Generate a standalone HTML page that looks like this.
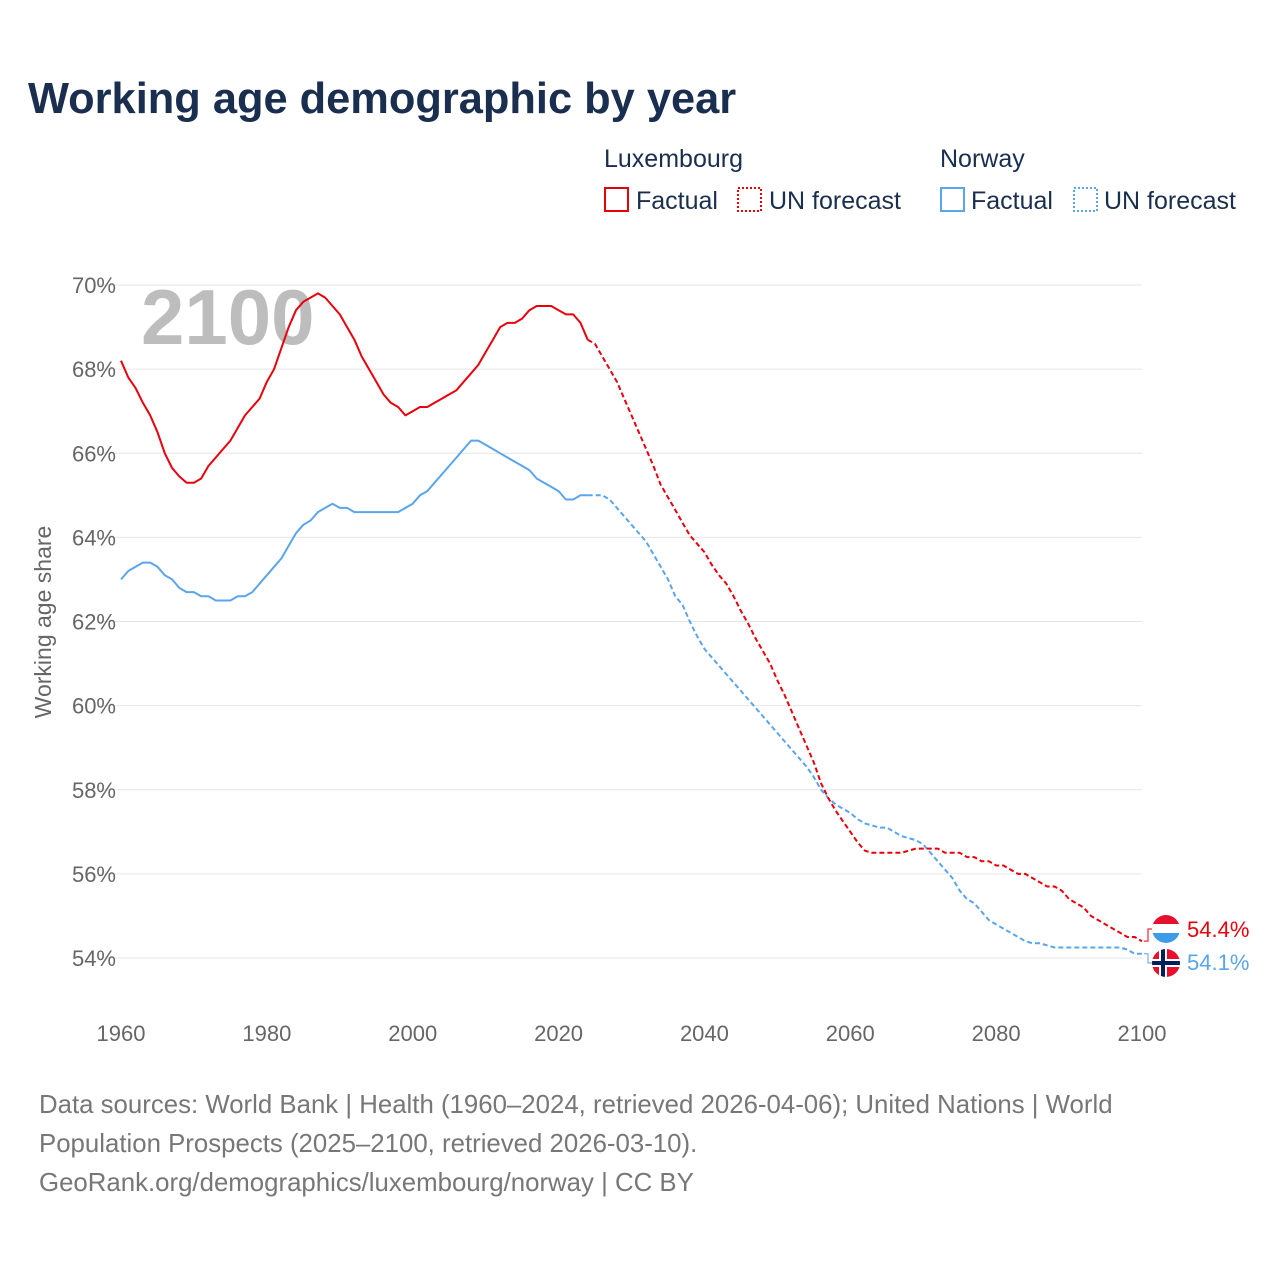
<!DOCTYPE html>
<html><head><meta charset="utf-8">
<style>
body{margin:0;background:#fff;font-family:"Liberation Sans",sans-serif;}
svg text{font-family:"Liberation Sans",sans-serif;}
</style></head>
<body>
<svg id="chart" width="1280" height="1280" xmlns="http://www.w3.org/2000/svg">
<text x="28" y="113" font-size="43.4" font-weight="bold" fill="#1a2e4f">Working age demographic by year</text>
<g font-size="25" fill="#1a2e4f">
<text x="604" y="167" fill="#1a2e4f">Luxembourg</text>
<rect x="605" y="188" width="23" height="23" fill="none" stroke="#e8000b" stroke-width="2"/>
<text x="636" y="209" fill="#1a2e4f">Factual</text>
<rect x="738" y="188" width="23" height="23" fill="none" stroke="#e8000b" stroke-width="2" stroke-dasharray="2,2"/>
<text x="769" y="209" fill="#1a2e4f">UN forecast</text>
<text x="940" y="167" fill="#1a2e4f">Norway</text>
<rect x="941" y="188" width="23" height="23" fill="none" stroke="#5aa5ec" stroke-width="2"/>
<text x="971" y="209" fill="#1a2e4f">Factual</text>
<rect x="1074" y="188" width="23" height="23" fill="none" stroke="#5aa5ec" stroke-width="2" stroke-dasharray="2,2"/>
<text x="1104" y="209" fill="#1a2e4f">UN forecast</text>
</g>
<text transform="translate(51,622) rotate(-90)" text-anchor="middle" font-size="23" fill="#666">Working age share</text>
<text x="141" y="344" font-size="78" font-weight="bold" fill="#bdbdbd">2100</text>
<g id="grid"></g><g id="series"></g>
<g font-size="25.8" fill="#777">
<text x="39" y="1113">Data sources: World Bank | Health (1960–2024, retrieved 2026-04-06); United Nations | World</text>
<text x="39" y="1152">Population Prospects (2025–2100, retrieved 2026-03-10).</text>
<text x="39" y="1191">GeoRank.org/demographics/luxembourg/norway | CC BY</text>
</g>
</svg>
<script>
const yTicks=[54,56,58,60,62,64,66,68,70];
const xTicks=[1960,1980,2000,2020,2040,2060,2080,2100];
const luxFactual=[68.2,67.8,67.55,67.2,66.9,66.5,66.0,65.65,65.45,65.3,65.3,65.4,65.7,65.9,66.1,66.3,66.6,66.9,67.1,67.3,67.7,68.0,68.5,69.0,69.4,69.6,69.7,69.8,69.7,69.5,69.3,69.0,68.7,68.3,68.0,67.7,67.4,67.2,67.1,66.9,67.0,67.1,67.1,67.2,67.3,67.4,67.5,67.7,67.9,68.1,68.4,68.7,69.0,69.1,69.1,69.2,69.4,69.5,69.5,69.5,69.4,69.3,69.3,69.1,68.7];
const luxForecast=[68.7,68.6,68.3,68.0,67.7,67.3,66.9,66.5,66.1,65.7,65.25,64.95,64.65,64.35,64.05,63.85,63.65,63.35,63.1,62.9,62.6,62.25,61.95,61.6,61.3,61.0,60.6,60.25,59.85,59.45,59.05,58.65,58.15,57.8,57.5,57.25,57.0,56.75,56.55,56.5,56.5,56.5,56.5,56.5,56.55,56.6,56.6,56.6,56.6,56.5,56.5,56.5,56.4,56.4,56.3,56.3,56.2,56.2,56.1,56.0,56.0,55.9,55.8,55.7,55.7,55.6,55.4,55.3,55.2,55.0,54.9,54.8,54.7,54.6,54.5,54.5,54.4];
const norFactual=[63.0,63.2,63.3,63.4,63.4,63.3,63.1,63.0,62.8,62.7,62.7,62.6,62.6,62.5,62.5,62.5,62.6,62.6,62.7,62.9,63.1,63.3,63.5,63.8,64.1,64.3,64.4,64.6,64.7,64.8,64.7,64.7,64.6,64.6,64.6,64.6,64.6,64.6,64.6,64.7,64.8,65.0,65.1,65.3,65.5,65.7,65.9,66.1,66.3,66.3,66.2,66.1,66.0,65.9,65.8,65.7,65.6,65.4,65.3,65.2,65.1,64.9,64.9,65.0,65.0];
const norForecast=[65.0,65.0,65.0,64.9,64.7,64.5,64.3,64.1,63.9,63.6,63.3,63.0,62.6,62.4,62.0,61.65,61.35,61.15,60.95,60.75,60.55,60.35,60.15,59.95,59.75,59.55,59.35,59.15,58.95,58.75,58.55,58.3,58.0,57.8,57.65,57.55,57.45,57.3,57.2,57.15,57.1,57.1,57.0,56.9,56.85,56.8,56.7,56.5,56.3,56.1,55.9,55.6,55.4,55.3,55.1,54.9,54.8,54.7,54.6,54.5,54.4,54.35,54.35,54.3,54.25,54.25,54.25,54.25,54.25,54.25,54.25,54.25,54.25,54.25,54.2,54.1,54.1];
const NS="http://www.w3.org/2000/svg";
const X=y=>121+(y-1960)*(1021/140);
const Y=v=>285+(70-v)*(673/16);
const grid=document.getElementById('grid'),ser=document.getElementById('series');
function mk(tag,attrs,parent){const e=document.createElementNS(NS,tag);for(const k in attrs)e.setAttribute(k,attrs[k]);parent.appendChild(e);return e;}
yTicks.forEach(v=>{
 const l=mk('line',{x1:100,x2:1142,y1:Y(v),y2:Y(v),stroke:'#e6e6e6','stroke-width':1},grid);
 
 
 const t=mk('text',{x:116,y:Y(v)+8,'text-anchor':'end','font-size':22,fill:'#666'},grid);
 t.textContent=v+'%';
 
 
});
xTicks.forEach(y=>{
 const t=mk('text',{x:X(y),y:1041,'text-anchor':'middle','font-size':22,fill:'#666'},grid);
 t.textContent=y;
 
 
});
function line(arr,start,color,dash,name){
 const d=arr.map((v,i)=>(i?'L':'M')+X(start+i).toFixed(1)+' '+Y(v).toFixed(1)).join(' ');
 const p=mk('path',{d:d,fill:'none',stroke:color,'stroke-width':2,'stroke-linejoin':'round'},ser);
 if(dash)p.setAttribute('stroke-dasharray','5,3');
 
 
}
line(norFactual,1960,'#5aa5ec',false,'norway-factual-line');
line(norForecast,2024,'#5aa5ec',true,'norway-forecast-line');
line(luxFactual,1960,'#e8000b',false,'luxembourg-factual-line');
line(luxForecast,2024,'#e8000b',true,'luxembourg-forecast-line');
const luxEnd=luxForecast[luxForecast.length-1],norEnd=norForecast[norForecast.length-1];
mk('path',{d:`M${X(2100)+2} ${Y(luxEnd)} H1148 V929 H1154`,fill:'none',stroke:'#e8000b','stroke-width':1},ser);
mk('path',{d:`M${X(2100)+2} ${Y(norEnd)} H1148 V963 H1154`,fill:'none',stroke:'#5aa5ec','stroke-width':1},ser);
const defs=mk('defs',{},ser);
const c1=mk('clipPath',{id:'cl1'},defs);mk('circle',{cx:1166,cy:929,r:14},c1);
const c2=mk('clipPath',{id:'cl2'},defs);mk('circle',{cx:1166,cy:963,r:14},c2);
const f1=mk('g',{'clip-path':'url(#cl1)'},ser);


mk('rect',{x:1152,y:915,width:28,height:10,fill:'#e8112d'},f1);
mk('rect',{x:1152,y:924,width:28,height:10,fill:'#fff'},f1);
mk('rect',{x:1152,y:933,width:28,height:10,fill:'#3d9be9'},f1);
const f2=mk('g',{'clip-path':'url(#cl2)'},ser);


mk('rect',{x:1152,y:949,width:28,height:28,fill:'#e8112d'},f2);
mk('rect',{x:1159,y:949,width:8,height:28,fill:'#fff'},f2);
mk('rect',{x:1152,y:959,width:28,height:8,fill:'#fff'},f2);
mk('rect',{x:1161,y:949,width:4,height:28,fill:'#00205b'},f2);
mk('rect',{x:1152,y:961,width:28,height:4,fill:'#00205b'},f2);
const t1=mk('text',{x:1187,y:937,'font-size':22,fill:'#e8000b'},ser);
t1.textContent=luxEnd.toFixed(1)+'%';


const t2=mk('text',{x:1187,y:970,'font-size':22,fill:'#5aa5ec'},ser);
t2.textContent=norEnd.toFixed(1)+'%';


</script>
</body></html>
